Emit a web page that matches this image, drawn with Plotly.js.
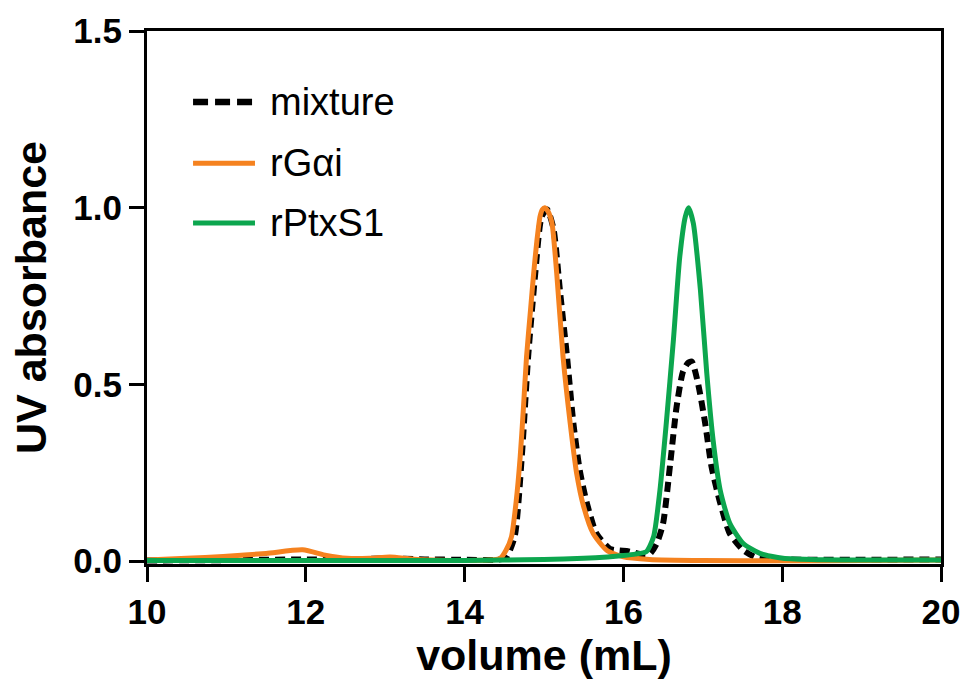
<!DOCTYPE html>
<html>
<head>
<meta charset="utf-8">
<script src="https://cdn.plot.ly/plotly-3.0.1.min.js"></script>
<style>html,body{margin:0;padding:0;background:#fff;}#chart{width:968px;height:687px;}</style>
</head>
<body>
<div id="chart"></div>
<script>
// Series names
const seriesNames = ["mixture", "rGαi", "rPtxS1"];

// mixture (dashed black)
const mixX = [10, 11, 12, 12.5, 13.0, 13.5, 14.0, 14.4, 14.52, 14.63, 14.72, 14.80, 14.89, 14.97, 15.04, 15.12, 15.20, 15.29, 15.37, 15.45, 15.54, 15.66, 15.83, 15.95, 16.04, 16.12, 16.21, 16.33, 16.42, 16.50, 16.59, 16.67, 16.75, 16.81, 16.86, 16.94, 17.03, 17.11, 17.22, 17.34, 17.51, 17.68, 18, 19, 20];
const mixY = [0.002, 0.003, 0.005, 0.004, 0.008, 0.005, 0.004, 0.004, 0.01, 0.069, 0.295, 0.578, 0.815, 0.975, 0.995, 0.94, 0.767, 0.578, 0.39, 0.257, 0.164, 0.078, 0.035, 0.03, 0.029, 0.025, 0.02, 0.02, 0.05, 0.107, 0.277, 0.437, 0.536, 0.56, 0.565, 0.503, 0.39, 0.267, 0.164, 0.078, 0.031, 0.01, 0.005, 0.004, 0.005];

// rGαi (orange)
const gaiX = [10, 10.5, 10.96, 11.5, 11.96, 12.26, 12.52, 12.8, 13.06, 13.3, 13.48, 14.0, 14.3, 14.45, 14.52, 14.59, 14.65, 14.70, 14.74, 14.78, 14.83, 14.87, 14.91, 14.95, 14.98, 15.01, 15.05, 15.10, 15.16, 15.24, 15.33, 15.41, 15.50, 15.62, 15.79, 16.0, 16.33, 17, 18, 19, 20];
const gaiY = [0.003, 0.008, 0.013, 0.022, 0.032, 0.016, 0.008, 0.008, 0.012, 0.007, 0.004, 0.002, 0.003, 0.008, 0.03, 0.069, 0.17, 0.295, 0.43, 0.578, 0.71, 0.815, 0.905, 0.975, 0.995, 1.0, 0.99, 0.957, 0.815, 0.578, 0.39, 0.25, 0.154, 0.078, 0.031, 0.012, 0.005, 0.002, 0.001, 0.002, 0.003];

// rPtxS1 (green)
const ptxX = [10, 12, 14, 14.5, 15, 15.5, 15.8, 16.0, 16.15, 16.29, 16.38, 16.46, 16.54, 16.63, 16.71, 16.78, 16.82, 16.88, 16.97, 17.05, 17.13, 17.22, 17.34, 17.51, 17.72, 18.01, 18.5, 19, 20];
const ptxY = [0.002, 0.002, 0.002, 0.003, 0.005, 0.008, 0.012, 0.016, 0.02, 0.027, 0.069, 0.2, 0.39, 0.626, 0.861, 0.975, 1.0, 0.957, 0.767, 0.532, 0.342, 0.2, 0.107, 0.05, 0.022, 0.008, 0.004, 0.003, 0.003];

// axis ticks
const xTicks = [10, 12, 14, 16, 18, 20];
const yTicks = [0.0, 0.5, 1.0, 1.5];
const yTickLabels = ["0.0", "0.5", "1.0", "1.5"];

const ORANGE = "#F5821F";
const GREEN = "#0CA64E";
const FONT = "Liberation Sans, Arial, Helvetica, sans-serif";

const traces = [
  {x: mixX, y: mixY, name: seriesNames[0], mode: "lines", type: "scatter",
   line: {color: "#000", width: 6, dash: "10px,6px", shape: "spline", smoothing: 0.6}},
  {x: gaiX, y: gaiY, name: seriesNames[1], mode: "lines", type: "scatter",
   line: {color: ORANGE, width: 5, shape: "spline", smoothing: 0.6}},
  {x: ptxX, y: ptxY, name: seriesNames[2], mode: "lines", type: "scatter",
   line: {color: GREEN, width: 5, shape: "spline", smoothing: 0.6}}
];

// custom legend (samples + labels) in paper coordinates
const legRowsY = [0.867, 0.752, 0.640];
const legColors = ["#000", ORANGE, GREEN];
const legDash = ["15px,7px", "solid", "solid"];
const legWidth = [6.5, 5, 5];
const shapes = legRowsY.map((yy, i) => ({
  type: "line", xref: "paper", yref: "paper", x0: 0.058, x1: 0.136, y0: yy, y1: yy,
  line: {color: legColors[i], width: legWidth[i], dash: legDash[i]}
}));
const annotations = legRowsY.map((yy, i) => ({
  xref: "paper", yref: "paper", x: 0.152, y: yy, xanchor: "left", yanchor: "middle",
  text: seriesNames[i], showarrow: false, font: {family: FONT, size: 38, color: "#000"}
}));

const layout = {
  width: 968, height: 687,
  margin: {l: 147, r: 27, t: 31, b: 123},
  paper_bgcolor: "#fff", plot_bgcolor: "#fff",
  showlegend: false,
  font: {family: FONT, color: "#000"},
  xaxis: {
    range: [10, 20], tickvals: xTicks, ticktext: xTicks.map(String),
    showgrid: false, zeroline: false, showline: true, mirror: true,
    linecolor: "#000", linewidth: 3, ticks: "outside", ticklen: 15, tickwidth: 3, tickcolor: "#000",
    tickfont: {family: FONT, size: 35, weight: "bold", color: "#000"},
    title: {text: "volume (mL)", font: {family: FONT, size: 43, weight: "bold", color: "#000"}, standoff: 6},
    layer: "below traces"
  },
  yaxis: {
    range: [-0.008, 1.5], tickvals: yTicks, ticktext: yTickLabels,
    showgrid: false, zeroline: false, showline: true, mirror: true,
    linecolor: "#000", linewidth: 3, ticks: "outside", ticklen: 15, tickwidth: 3, tickcolor: "#000",
    tickfont: {family: FONT, size: 35, weight: "bold", color: "#000"},
    title: {text: "UV absorbance", font: {family: FONT, size: 43, weight: "bold", color: "#000"}, standoff: 14},
    layer: "below traces"
  },
  shapes: shapes,
  annotations: annotations
};

Plotly.newPlot("chart", traces, layout, {displayModeBar: false, staticPlot: true});
</script>
</body>
</html>
